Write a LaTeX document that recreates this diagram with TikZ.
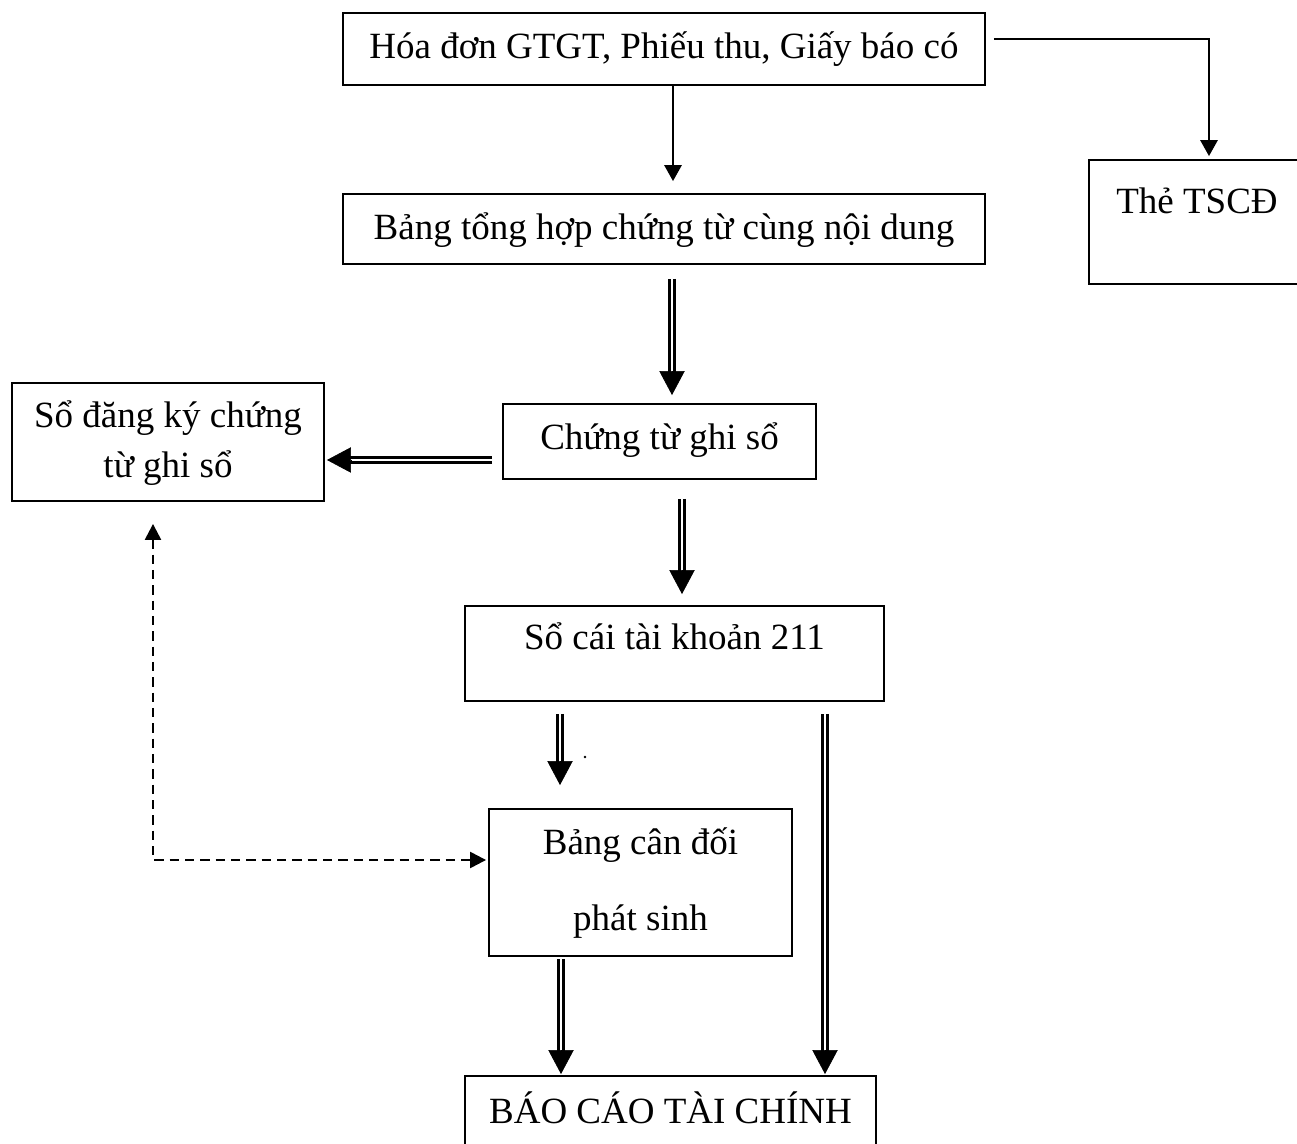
\documentclass[tikz,border=0pt]{standalone}
\usepackage{fontspec}
\setmainfont{Liberation Serif}
\usetikzlibrary{arrows.meta,calc}

% double-line arrow: shaft drawn as a double stroke, filled head on top
\newcommand{\dblarrow}[2]{%
  \draw[dshaft] (#1) -- ($(#2)!17pt!(#1)$);
  \draw[dhead] ($(#2)!18pt!(#1)$) -- (#2);
}

\begin{document}
\begin{tikzpicture}[x=0.75pt,y=-0.75pt,
  box/.style={draw, line width=1.4pt, rectangle, inner sep=0pt},
  lbl/.style={anchor=base, inner sep=0pt, font=\fontsize{27.75pt}{33pt}\selectfont},
  arr/.style={line width=1.5pt, -{Triangle[length=12pt,width=13pt]}},
  dshaft/.style={line width=2pt, double=white, double distance=2pt},
  dhead/.style={line width=0.5pt, -{Triangle[length=18pt,width=19pt]}},
  dashedarrow/.style={line width=1.8pt, dash pattern=on 7pt off 4.5pt,
    {Triangle[length=12pt,width=12pt]}-{Triangle[length=12pt,width=12pt]}},
]
\useasboundingbox (0,0) rectangle (1297,1144);

% boxes
\node[box, minimum width=481.5pt, minimum height=54pt]    (b1) at (664,49) {};
\node[box, minimum width=162pt,   minimum height=93pt]    (b2) at (1197,222) {};
\node[box, minimum width=481.5pt, minimum height=52.5pt]  (b3) at (664,229) {};
\node[box, minimum width=234pt,   minimum height=88.5pt]  (b4) at (168,442) {};
\node[box, minimum width=234.75pt,minimum height=56.25pt] (b5) at (659.5,441.5) {};
\node[box, minimum width=314.25pt,minimum height=71.25pt] (b6) at (674.5,653.5) {};
\node[box, minimum width=227.25pt,minimum height=110.25pt](b7) at (640.5,882.5) {};
\node[box, minimum width=308.25pt,minimum height=63pt]    (b8) at (670.5,1118) {};

% labels
\node[lbl] (t1)  at (664,59)    {Hóa đơn GTGT, Phiếu thu, Giấy báo có};
\node[lbl] (t2)  at (1197,214)  {Thẻ TSCĐ};
\node[lbl] (t3)  at (664,240)   {Bảng tổng hợp chứng từ cùng nội dung};
\node[lbl] (t4a) at (168,428)   {Sổ đăng ký chứng};
\node[lbl] (t4b) at (168,478)   {từ ghi sổ};
\node[lbl] (t5)  at (659.5,450) {Chứng từ ghi sổ};
\node[lbl] (t6)  at (674.5,650) {Sổ cái tài khoản 211};
\node[lbl] (t7a) at (640.5,854) {Bảng cân đối};
\node[lbl] (t7b) at (640.5,930) {phát sinh};
\node[lbl] (t8)  at (670.5,1123){BÁO CÁO TÀI CHÍNH};

% guide coordinates for connector columns and rows
\coordinate (cA) at (673,0);
\coordinate (cB) at (1209,39);
\coordinate (cC) at (672,0);
\coordinate (cD) at (682,0);
\coordinate (rE) at (0,460);
\coordinate (cF) at (153,860);
\coordinate (cG) at (560,0);
\coordinate (cH) at (825,0);
\coordinate (cI) at (561,0);

% single arrows
\draw[arr, shorten >=9pt] (b1.south -| cA) -- (b3.north -| cA);
\draw[arr, shorten <=6pt, shorten >=2.25pt] (b1.east |- cB) -| (b2.north -| cB);

% double arrows
\path (b3.south -| cC) ++(0,14)  coordinate (p3a);
\path (b5.north -| cC) ++(0,-8)  coordinate (p3b);
\dblarrow{p3a}{p3b}

\path (b5.south -| cD) ++(0,19)  coordinate (p4a);
\path (b6.north -| cD) ++(0,-11) coordinate (p4b);
\dblarrow{p4a}{p4b}

\path (b5.west |- rE) ++(-10,0)  coordinate (p5a);
\path (b4.east |- rE) ++(2,0)    coordinate (p5b);
\dblarrow{p5a}{p5b}

\path (b6.south -| cG) ++(0,12)  coordinate (p6a);
\path (b7.north -| cG) ++(0,-23) coordinate (p6b);
\dblarrow{p6a}{p6b}

\path (b6.south -| cH) ++(0,12)  coordinate (p7a);
\path (b8.north -| cH) ++(0,-1)  coordinate (p7b);
\dblarrow{p7a}{p7b}

\path (b7.south -| cI) ++(0,2)   coordinate (p8a);
\path (b8.north -| cI) ++(0,-1)  coordinate (p8b);
\dblarrow{p8a}{p8b}

% stray dot beside the arrow
\fill (585,757) circle[radius=1.1pt];

% dashed two-way link
\path (b4.south -| cF) ++(0,22) coordinate (q1);
\path (b7.west |- cF) ++(-2,0)  coordinate (q2);
\draw[dashedarrow] (q1) |- (q2);

\end{tikzpicture}
\end{document}
